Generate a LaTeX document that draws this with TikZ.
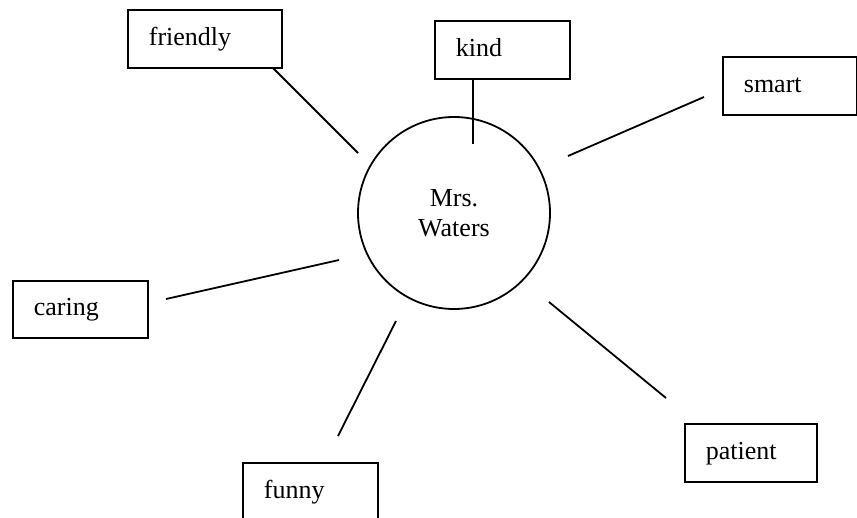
\documentclass[tikz,border=0pt]{standalone}
\usepackage{fontspec}
\setmainfont{Liberation Serif}
\begin{document}
\begin{tikzpicture}[x=1pt,y=-1pt,
  every node/.style={font=\fontsize{26pt}{30pt}\selectfont},
  wordbox/.style={draw, line width=1.8pt, anchor=north west, inner xsep=21pt,
    inner ysep=0pt, align=left, text height=18pt, text depth=5.7pt,
    minimum height=58pt},
  spoke/.style={line width=1.8pt},
  hub/.style={draw, circle, line width=1.8pt, minimum size=192pt, inner sep=0pt,
    align=center}]
\useasboundingbox (0,0) rectangle (857,517);
% hub
\node[hub] (hub) at (454,213) {\raisebox{-2pt}{Mrs.}\\\raisebox{-2pt}{Waters}};
% boxes
\node[wordbox, text width=112pt] (friendly) at (127,9) {friendly};
\node[wordbox, text width=93pt] (kind) at (434,20) {kind};
\node[wordbox, text width=92pt] (smart) at (722,56) {smart};
\node[wordbox, text width=93pt, minimum height=57pt] (caring) at (12,280) {caring};
\node[wordbox, text width=93pt] (funny) at (242,462) {funny};
\node[wordbox, text width=90pt] (patient) at (684,423) {patient};
% spoke ends
\coordinate (f1) at (273,68);  \coordinate (f2) at (358,153);
\coordinate (k1) at (473,78);  \coordinate (k2) at (473,144);
\coordinate (s1) at (704,97);  \coordinate (s2) at (568,156);
\coordinate (c1) at (166,299); \coordinate (c2) at (339,260);
\coordinate (u1) at (396,321); \coordinate (u2) at (338,436);
\coordinate (p1) at (549,302); \coordinate (p2) at (666,398);
\draw[spoke] (f1) -- (f2);
\draw[spoke] (k1) -- (k2);
\draw[spoke] (s1) -- (s2);
\draw[spoke] (c1) -- (c2);
\draw[spoke] (u1) -- (u2);
\draw[spoke] (p1) -- (p2);
\end{tikzpicture}
\end{document}
